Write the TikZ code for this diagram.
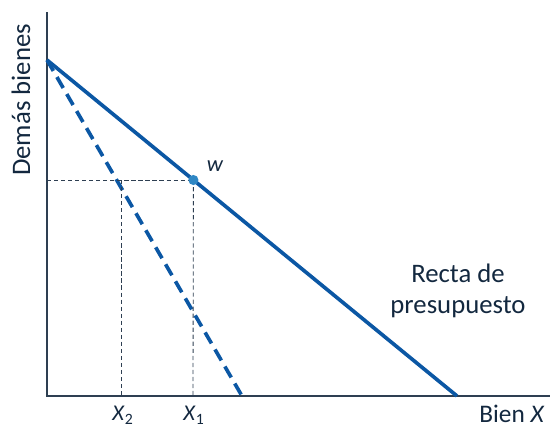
\documentclass[tikz,border=0pt]{standalone}
\usepackage{fontspec}
\setmainfont{Carlito}
\definecolor{eje}{HTML}{2E3F52}
\definecolor{recta}{HTML}{0B57A4}
\definecolor{punto}{HTML}{2F87C4}
\definecolor{texto}{HTML}{13283F}
\tikzset{%
		eje/.style={draw=eje,thick},
		recta/.style={draw=recta,line width=2.6pt},
		guia/.style={draw=eje,densely dashed,semithick},
		etiqueta/.style={text=texto,font=\fontsize{16}{18}\selectfont,inner sep=0pt},
		grande/.style={etiqueta,font=\fontsize{19}{22}\selectfont}
	}
\begin{document}
\begin{tikzpicture}[x=0.025cm,y=-0.025cm]
      \useasboundingbox (0,0) rectangle (551,430);
      % ejes
      \coordinate (O) at (47,396);
      \coordinate (ytop) at (47,12);
      \coordinate (xend) at (550,396);
      \draw[eje] (ytop) -- (O) -- (xend);
      % rectas de presupuesto
      \coordinate (A) at (47,60);
      \coordinate (B) at (457,396);
      \coordinate (C) at (242,396);
      \draw[recta] (A) -- (B);
      \draw[recta,dash pattern=on 9pt off 5pt] (A) -- (C);
      % punto w y guias
      \coordinate (w) at (193.4,180);
      \coordinate (y0) at (47,180);
      \coordinate (x1) at (193,396);
      \coordinate (x2) at (121,396);
      \coordinate (x2t) at (121,180);
      \draw[guia] (y0) -- (w);
      \draw[guia] (w) -- (x1);
      \draw[guia] (x2t) -- (x2);
      \fill[punto] (w) circle (3.6pt);
      % textos
      \node[etiqueta] (lw) at (215,166) {\textit{w}};
      \node[etiqueta] (lx2) at (123,415) {\textit{X}\textsubscript{2}};
      \node[etiqueta] (lx1) at (194,415) {\textit{X}\textsubscript{1}};
      \node[etiqueta,font=\fontsize{18}{21}\selectfont] (lbien) at (512,414) {Bien \textit{X}};
      \node[grande,align=center] (lrecta) at (458,291) {Recta de\\presupuesto};
      \node[grande,rotate=90] (ldemas) at (21,100) {Demás bienes};
\end{tikzpicture}
\end{document}
